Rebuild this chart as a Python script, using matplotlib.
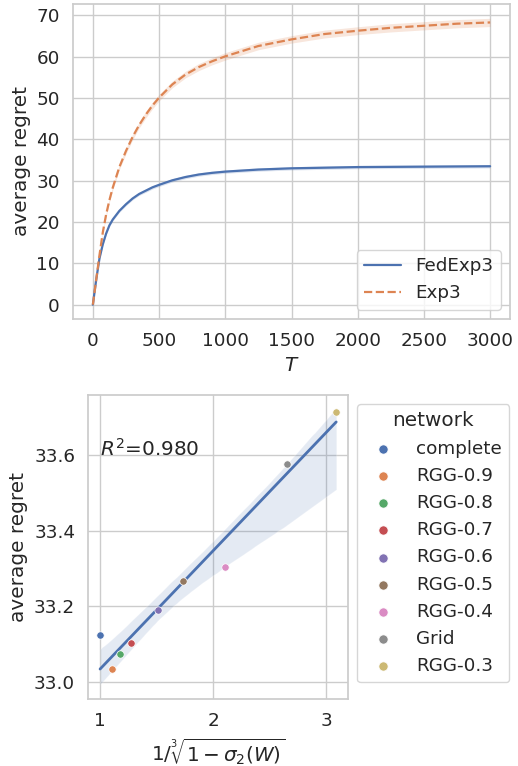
import numpy as np
import matplotlib
matplotlib.use("Agg")
import matplotlib.pyplot as plt
import seaborn as sns

sns.set_theme(style="whitegrid", font_scale=1.2)
plt.rcParams['font.family'] = ['DejaVu Sans']

# ---- top panel data ----
T = [0, 25, 50, 75, 100, 125, 150, 200, 250, 300, 350, 400, 450, 500, 600, 700,
     800, 900, 1000, 1250, 1500, 1750, 2000, 2250, 2500, 2750, 3000]
fedexp3 = [0, 6.0, 11.2, 14.6, 17.2, 19.2, 20.6, 22.7, 24.3, 25.7, 26.8, 27.6, 28.4,
           29.0, 30.1, 30.9, 31.5, 31.9, 32.2, 32.7, 33.0, 33.15, 33.3, 33.35, 33.4,
           33.45, 33.5]
exp3 = [0, 6.0, 12.0, 17.5, 21.8, 25.3, 28.3, 33.3, 37.2, 40.6, 43.5, 46.0, 48.2,
        50.1, 53.3, 55.7, 57.5, 58.9, 60.1, 62.6, 64.2, 65.5, 66.3, 67.0, 67.5,
        68.0, 68.3]
fedexp3_ci = [0, 0.1, 0.2, 0.25, 0.3, 0.3, 0.3, 0.35, 0.35, 0.35, 0.35, 0.4, 0.4,
              0.4, 0.4, 0.4, 0.4, 0.4, 0.4, 0.4, 0.4, 0.4, 0.4, 0.4, 0.4, 0.4, 0.4]
exp3_ci = [0, 0.2, 0.3, 0.4, 0.5, 0.5, 0.6, 0.6, 0.7, 0.7, 0.7, 0.8, 0.8, 0.8, 0.8,
           0.8, 0.85, 0.85, 0.9, 0.9, 0.9, 0.95, 0.95, 1.0, 1.0, 1.0, 1.0]

# ---- bottom panel data ----
networks = ["complete", "RGG-0.9", "RGG-0.8", "RGG-0.7", "RGG-0.6", "RGG-0.5",
            "RGG-0.4", "Grid", "RGG-0.3"]
inv_gap = [1.0, 1.103, 1.177, 1.271, 1.516, 1.732, 2.109, 2.655, 3.088]
avg_regret = [33.125, 33.035, 33.075, 33.104, 33.190, 33.267, 33.304, 33.577, 33.716]
r2_text = "$R^2$=0.980"

pal = sns.color_palette("deep")

fig = plt.figure(figsize=(5.18, 7.66), dpi=100)
ax1 = fig.add_axes([73/518, 1-319/766, (510-73)/518, (319-4)/766])
ax2 = fig.add_axes([88.3/518, 1-699/766, (348.3-88.3)/518, (699-395)/766])

Ta = np.array(T)
for vals, ci, col, ls, lab in [(fedexp3, fedexp3_ci, pal[0], '-', 'FedExp3'),
                               (exp3, exp3_ci, pal[1], '--', 'Exp3')]:
    v = np.array(vals); c = np.array(ci)
    ax1.fill_between(Ta, v - c, v + c, color=col, alpha=0.2, linewidth=0)
    ax1.plot(Ta, v, color=col, ls=ls, lw=1.6, label=lab)
ax1.set_xlabel("$T$")
ax1.set_ylabel("average regret")
ax1.set_xticks([0, 500, 1000, 1500, 2000, 2500, 3000])
ax1.set_yticks([0, 10, 20, 30, 40, 50, 60, 70])
ax1.legend(loc="lower right")

sns.regplot(x=np.array(inv_gap), y=np.array(avg_regret), scatter=False, ax=ax2,
            color=pal[0], seed=0, line_kws=dict(lw=2))
for i, (xv, yv, name) in enumerate(zip(inv_gap, avg_regret, networks)):
    ax2.scatter([xv], [yv], s=28, color=pal[i], edgecolor='white', linewidth=0.5,
                label=name, zorder=3)
ax2.text(1.0, 33.6, r2_text, fontsize=14.4, color='.15')
ax2.set_xlim(0.896, 3.195)
ax2.set_ylim(32.955, 33.76)
ax2.set_xticks([1, 2, 3])
ax2.set_yticks([33.0, 33.2, 33.4, 33.6])
ax2.set_xlabel(r"$1/\sqrt[3]{1-\sigma_2(W)}$")
ax2.set_ylabel("average regret")
ax2.legend(title="network", loc="upper left", bbox_to_anchor=(1, 1), markerscale=1.25)

fig.savefig("out.png", dpi=100)
